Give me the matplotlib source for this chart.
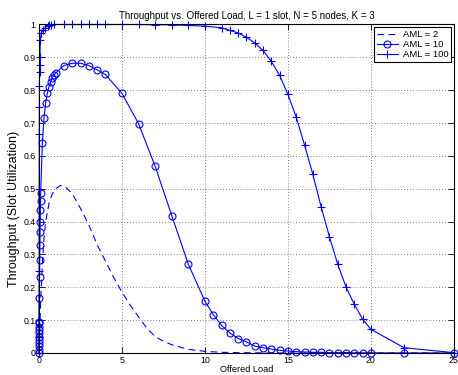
import matplotlib
matplotlib.use('Agg')
import matplotlib.pyplot as plt

# * Curve data
x_aml2 = [0, 0.05, 0.1, 0.2, 0.3, 0.4, 0.6, 0.8, 1.0, 1.3, 1.6, 2.0, 2.5, 3.0, 3.5, 4.0,
          4.5, 5.0, 5.5, 6.0, 6.5, 7.0, 7.5, 8.0, 9.0, 10, 11, 12, 14, 16, 20, 25]
y_aml2 = [0, 0.08, 0.16, 0.27, 0.35, 0.40, 0.455, 0.485, 0.50, 0.51, 0.505, 0.485, 0.44,
          0.39, 0.33, 0.28, 0.23, 0.185, 0.145, 0.11, 0.075, 0.05, 0.036, 0.025, 0.011,
          0.005, 0.002, 0.001, 0, 0, 0, 0]

x_aml10 = [0, 0.001, 0.002, 0.003, 0.004, 0.005, 0.006, 0.007, 0.008, 0.009,
           0.01, 0.02, 0.03, 0.04, 0.05, 0.06, 0.07, 0.08, 0.09, 0.1,
           0.2, 0.3, 0.4, 0.5, 0.6, 0.7, 0.8, 0.9, 1.0, 1.5, 2, 2.5, 3, 3.5, 4,
           5, 6, 7, 8, 9, 10, 10.5, 11, 11.5, 12, 12.5, 13, 13.5, 14, 14.5, 15,
           15.5, 16, 16.5, 17, 17.5, 18, 18.5, 19, 19.5, 20, 22, 25]
y_aml10 = [0, 0.01, 0.02, 0.03, 0.04, 0.05, 0.06, 0.07, 0.08, 0.09,
           0.095, 0.168, 0.232, 0.283, 0.328, 0.369, 0.40, 0.434, 0.462, 0.486,
           0.639, 0.716, 0.761, 0.791, 0.81, 0.826, 0.838, 0.846, 0.852, 0.875,
           0.882, 0.882, 0.875, 0.862, 0.848, 0.79, 0.698, 0.568, 0.418, 0.27,
           0.157, 0.117, 0.084, 0.061, 0.044, 0.034, 0.021, 0.016, 0.012, 0.008,
           0.006, 0.004, 0.003, 0.002, 0.002, 0.001, 0.001, 0.001, 0.0005, 0.0005,
           0.0003, 0, 0]

x_aml100 = [0, 0.001, 0.002, 0.005, 0.01, 0.015, 0.02, 0.025, 0.03, 0.04, 0.05,
            0.08, 0.14, 0.26, 0.38, 0.52, 0.62, 0.72, 0.9, 1.5, 2, 2.5, 3, 3.5, 4,
            5, 6, 7, 8, 9, 10, 11, 11.5, 12, 12.5, 13, 13.5, 14, 14.5, 15, 15.5,
            16, 16.5, 17, 17.5, 18, 18.5, 19, 19.5, 20, 22, 25]
y_aml100 = [0, 0.05, 0.1, 0.25, 0.5, 0.666, 0.748, 0.813, 0.854, 0.877, 0.90,
            0.953, 0.974, 0.984, 0.99, 0.996, 0.998, 0.999, 1.0, 1.0, 1.0, 1.0, 1.0,
            1.0, 1.0, 1.0, 1.0, 0.999, 0.999, 0.997, 0.995, 0.99, 0.982, 0.974,
            0.961, 0.944, 0.921, 0.888, 0.845, 0.787, 0.718, 0.633, 0.544, 0.445,
            0.354, 0.27, 0.201, 0.148, 0.103, 0.072, 0.016, 0.001]

x_ticks = [0, 5, 10, 15, 20, 25]
y_ticks = [0, 0.1, 0.2, 0.3, 0.4, 0.5, 0.6, 0.7, 0.8, 0.9, 1]
y_tick_labels = ['0', '0.1', '0.2', '0.3', '0.4', '0.5', '0.6', '0.7', '0.8', '0.9', '1']

plt.rcParams['font.family'] = ['Liberation Sans', 'DejaVu Sans']
plt.rcParams['font.size'] = 7

fig = plt.figure(figsize=(4.58, 3.75), dpi=100)
ax = fig.add_axes([0.0852, 0.0587, 0.9058, 0.876])

blue = (0, 0, 1)
ax.plot(x_aml2, y_aml2, color=blue, lw=0.8, dashes=(6, 4), label='AML = 2')
ax.plot(x_aml10, y_aml10, color=blue, lw=0.8, marker='o', ms=5,
        mfc='none', mew=0.8, label='AML = 10', clip_on=False)
ax.plot(x_aml100, y_aml100, color=blue, lw=0.8, marker='+', ms=6,
        mew=0.8, label='AML = 100', clip_on=False)

ax.set_xlim(0, 25)
ax.set_ylim(0, 1)
ax.set_xticks(x_ticks)
ax.set_yticks(y_ticks)
ax.set_yticklabels(y_tick_labels)
ax.tick_params(direction='in', length=4, width=0.6, top=True, right=True,
               pad=2.5, labelsize=6.3)
for s in ax.spines.values():
    s.set_linewidth(0.8)

# * MATLAB style dotted grid
ax.grid(True, color='0.35', linestyle=(0, (1, 2.5)), linewidth=0.6)

ax.set_title('Throughput vs. Offered Load, L = 1 slot, N = 5 nodes, K = 3',
             fontsize=7, pad=4)
ax.set_xlabel('Offered Load', fontsize=6.6, labelpad=0)
ax.set_ylabel('Throughput (Slot Utilization)', fontsize=9)
ax.yaxis.set_label_coords(-0.046, 0.438)

leg = ax.legend(loc='upper right', fancybox=False, edgecolor='black', framealpha=1,
                borderaxespad=0.3, handlelength=2.2, labelspacing=0.1,
                borderpad=0.3, handletextpad=0.5, fontsize=6.8)
leg.get_frame().set_linewidth(0.8)

fig.savefig('out.png', dpi=100)
